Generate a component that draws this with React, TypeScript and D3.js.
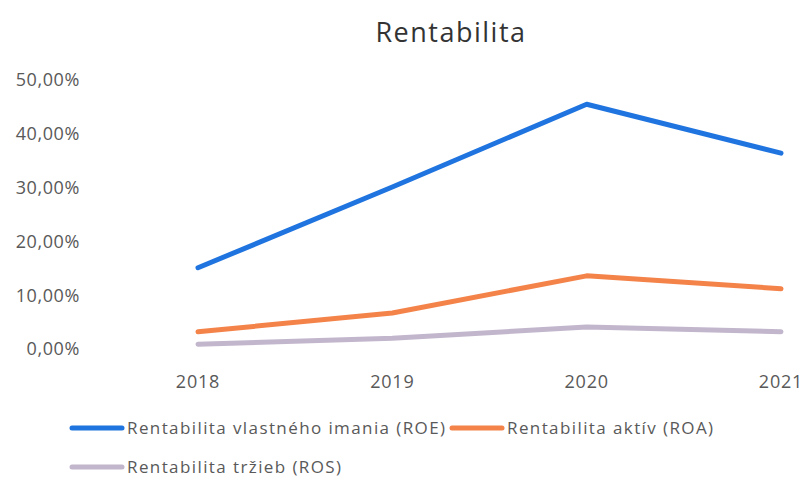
import React from "react";
import * as d3 from "d3";

const years = ["2018", "2019", "2020", "2021"];
const roe = [15.1, 30.1, 45.5, 36.4];
const roa = [3.2, 6.7, 13.6, 11.2];
const ros = [0.9, 2.0, 4.1, 3.2];
const yTicks = [0, 10, 20, 30, 40, 50];
const seriesNames = [
  "Rentabilita vlastného imania (ROE)",
  "Rentabilita aktív (ROA)",
  "Rentabilita tržieb (ROS)",
];
const colors = ["#1f74e0", "#f4834a", "#c2b6cc"];

export default function App() {
  const W = 803;
  const H = 477;
  const x = d3.scalePoint<string>().domain(years).range([198, 781]);
  const y = d3.scaleLinear().domain([0, 50]).range([349, 80]);
  const line = d3
    .line<number>()
    .x((_, i) => x(years[i]) as number)
    .y((d) => y(d));
  const series = [roe, roa, ros];
  const fmt = (v: number) => v.toFixed(2).replace(".", ",") + "%";
  const font = "'Open Sans', 'Liberation Sans', sans-serif";
  const legend = [
    { lx: 72, ly: 428, tx: 127 },
    { lx: 452, ly: 428, tx: 507 },
    { lx: 72, ly: 467, tx: 127 },
  ];
  return (
    <svg
      width={W}
      height={H}
      style={{ position: "absolute", left: 0, top: 0, background: "#fff" }}
      fontFamily={font}
    >
      <rect width={W} height={H} fill="#fff" />
      <text
        x={451}
        y={42}
        textAnchor="middle"
        fontSize={27}
        letterSpacing={1.5}
        fill="#333"
      >
        Rentabilita
      </text>
      {yTicks.map((t) => (
        <text
          key={t}
          x={80}
          y={y(t)}
          dy="0.35em"
          textAnchor="end"
          fontSize={18}
          letterSpacing={0.6}
          fill="#595959"
        >
          {fmt(t)}
        </text>
      ))}
      {years.map((yr) => (
        <text
          key={yr}
          x={x(yr) as number}
          y={388}
          textAnchor="middle"
          fontSize={18}
          letterSpacing={0.8}
          fill="#595959"
        >
          {yr}
        </text>
      ))}
      {series.map((s, i) => (
        <path
          key={i}
          d={line(s) as string}
          fill="none"
          stroke={colors[i]}
          strokeWidth={5}
          strokeLinecap="round"
          strokeLinejoin="round"
        />
      ))}
      {legend.map((l, i) => (
        <g key={i}>
          <line
            x1={l.lx}
            x2={l.lx + 50}
            y1={l.ly}
            y2={l.ly}
            stroke={colors[i]}
            strokeWidth={5}
            strokeLinecap="round"
          />
          <text
            x={l.tx}
            y={l.ly}
            dy="0.35em"
            fontSize={17}
            letterSpacing={1.4}
            fill="#595959"
          >
            {seriesNames[i]}
          </text>
        </g>
      ))}
    </svg>
  );
}
